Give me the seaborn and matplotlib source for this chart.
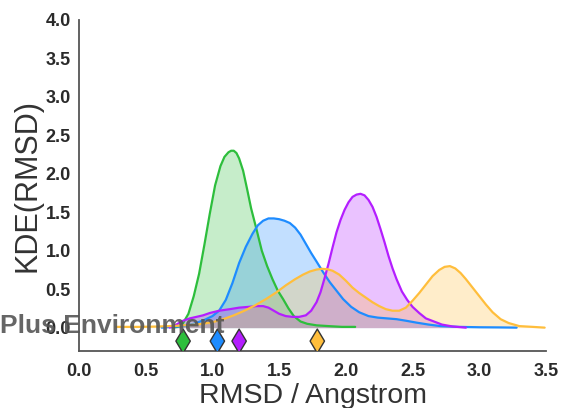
import matplotlib
matplotlib.use("Agg")
import matplotlib.pyplot as plt
import seaborn as sns
import pandas as pd

# ---- data ----
green_x = [0.70, 0.74, 0.78, 0.82, 0.86, 0.90, 0.94, 0.98, 1.02, 1.06, 1.09, 1.12, 1.14, 1.16, 1.18, 1.20, 1.23, 1.26, 1.29, 1.33, 1.37, 1.41, 1.45, 1.49, 1.53, 1.57, 1.61, 1.66, 1.71, 1.78, 1.87, 1.97, 2.07]
green_y = [0.0, 0.01, 0.06, 0.18, 0.41, 0.70, 1.08, 1.48, 1.85, 2.10, 2.22, 2.28, 2.30, 2.30, 2.27, 2.20, 2.04, 1.80, 1.55, 1.28, 1.00, 0.80, 0.63, 0.48, 0.37, 0.25, 0.15, 0.08, 0.05, 0.03, 0.02, 0.01, 0.01]

blue_x = [0.62, 0.70, 0.78, 0.86, 0.94, 1.00, 1.05, 1.10, 1.15, 1.20, 1.25, 1.30, 1.34, 1.38, 1.42, 1.46, 1.50, 1.54, 1.58, 1.62, 1.66, 1.70, 1.74, 1.78, 1.83, 1.88, 1.93, 1.98, 2.04, 2.10, 2.17, 2.24, 2.31, 2.38, 2.45, 2.53, 2.62, 2.71, 2.85, 3.00, 3.15, 3.28]
blue_y = [0.0, 0.01, 0.02, 0.05, 0.10, 0.15, 0.22, 0.36, 0.58, 0.84, 1.05, 1.22, 1.33, 1.39, 1.42, 1.42, 1.41, 1.39, 1.36, 1.30, 1.21, 1.09, 0.97, 0.86, 0.72, 0.59, 0.48, 0.37, 0.27, 0.20, 0.15, 0.13, 0.12, 0.11, 0.09, 0.065, 0.04, 0.02, 0.01, 0.005, 0.003, 0.0]

purple_x = [0.68, 0.73, 0.78, 0.83, 0.88, 0.93, 0.98, 1.05, 1.13, 1.20, 1.27, 1.33, 1.38, 1.42, 1.46, 1.50, 1.55, 1.60, 1.65, 1.70, 1.74, 1.78, 1.81, 1.84, 1.87, 1.90, 1.93, 1.96, 1.99, 2.02, 2.05, 2.08, 2.11, 2.14, 2.17, 2.20, 2.23, 2.26, 2.29, 2.32, 2.35, 2.38, 2.42, 2.46, 2.50, 2.55, 2.60, 2.66, 2.72, 2.80, 2.90]
purple_y = [0.0, 0.04, 0.09, 0.12, 0.14, 0.16, 0.19, 0.22, 0.24, 0.26, 0.27, 0.28, 0.28, 0.26, 0.22, 0.18, 0.15, 0.14, 0.14, 0.16, 0.22, 0.33, 0.46, 0.64, 0.83, 1.04, 1.24, 1.40, 1.53, 1.63, 1.70, 1.73, 1.74, 1.72, 1.66, 1.57, 1.44, 1.28, 1.11, 0.93, 0.77, 0.63, 0.47, 0.36, 0.27, 0.19, 0.12, 0.08, 0.04, 0.015, 0.0]

orange_x = [0.28, 0.45, 0.60, 0.75, 0.90, 1.00, 1.08, 1.16, 1.24, 1.32, 1.40, 1.48, 1.55, 1.62, 1.68, 1.73, 1.78, 1.82, 1.86, 1.90, 1.95, 2.00, 2.05, 2.10, 2.15, 2.20, 2.25, 2.30, 2.35, 2.40, 2.45, 2.50, 2.55, 2.60, 2.65, 2.70, 2.74, 2.78, 2.82, 2.86, 2.90, 2.95, 3.00, 3.05, 3.10, 3.16, 3.22, 3.30, 3.40, 3.49]
orange_y = [0.01, 0.01, 0.015, 0.025, 0.045, 0.07, 0.11, 0.16, 0.22, 0.29, 0.37, 0.46, 0.55, 0.63, 0.69, 0.73, 0.755, 0.765, 0.76, 0.74, 0.69, 0.61, 0.52, 0.45, 0.39, 0.33, 0.28, 0.24, 0.22, 0.22, 0.26, 0.35, 0.45, 0.56, 0.67, 0.75, 0.79, 0.80, 0.77, 0.71, 0.63, 0.52, 0.41, 0.30, 0.20, 0.11, 0.06, 0.02, 0.01, 0.0]

series_names = ["green", "blue", "purple", "orange"]
series_colors = ["#2dbe3c", "#1e8cff", "#b41eff", "#ffbe3c"]
marker_x = [0.78, 1.037, 1.20, 1.786]   # diamond markers
marker_y = [-0.175, -0.175, -0.175, -0.175]

x_ticks = [0.0, 0.5, 1.0, 1.5, 2.0, 2.5, 3.0, 3.5]
y_ticks = [0.0, 0.5, 1.0, 1.5, 2.0, 2.5, 3.0, 3.5, 4.0]
x_label = "RMSD / Angstrom"
y_label = "KDE(RMSD)"
annotation = "Plus Environment"

# ---- figure ----
sns.set_style("white")
plt.rcParams["font.family"] = ["Liberation Sans", "DejaVu Sans"]

fig = plt.figure(figsize=(5.62, 4.08), dpi=100)
ax = fig.add_axes([0.1406, 0.1404, 0.9715 - 0.1406, 0.951 - 0.1404])

curves = [(green_x, green_y), (blue_x, blue_y), (purple_x, purple_y), (orange_x, orange_y)]
frames = []
for name, (xs, ys) in zip(series_names, curves):
    frames.append(pd.DataFrame({"x": xs, "y": ys, "series": name}))
df = pd.concat(frames, ignore_index=True)
pal = dict(zip(series_names, series_colors))

for name, color, (xs, ys) in zip(series_names, series_colors, curves):
    ax.fill_between(xs, 0, ys, color=color, alpha=0.27, linewidth=0)

sns.lineplot(data=df, x="x", y="y", hue="series", palette=pal,
             sort=False, estimator=None, linewidth=1.6, legend=False, ax=ax)
for line in ax.lines:
    line.set_solid_joinstyle("round")

mdf = pd.DataFrame({"x": marker_x, "y": marker_y, "series": series_names})
sns.scatterplot(data=mdf, x="x", y="y", hue="series", palette=pal,
                marker="d", s=150, edgecolor="#333333", linewidth=1.0, legend=False, ax=ax, zorder=5)

ax.set_xlim(0, 3.5)
ax.set_ylim(-0.3, 4.0)
ax.set_xticks(x_ticks)
ax.set_yticks(y_ticks)
ax.set_xticklabels([f"{v:.1f}" for v in x_ticks], fontweight="bold", fontsize=13, color="#2a2a2a")
ax.set_yticklabels([f"{v:.1f}" for v in y_ticks], fontweight="bold", fontsize=13, color="#2a2a2a")
ax.tick_params(axis="both", length=0)
ax.tick_params(axis="x", pad=9)
ax.tick_params(axis="y", pad=6)

ax.set_xlabel(x_label, fontsize=20.5, color="#333333", labelpad=2)
ax.set_ylabel(y_label, fontsize=22, color="#333333", labelpad=2)

for side in ["top", "right"]:
    ax.spines[side].set_visible(False)
for side in ["left", "bottom"]:
    ax.spines[side].set_color("#555555")
    ax.spines[side].set_linewidth(1.3)

ax.text(1.09, 0.02, annotation, ha="right", va="center", fontsize=19, fontweight="bold",
        color="#555555", alpha=0.9, clip_on=False, zorder=6)

fig.savefig("out.png", dpi=100)
